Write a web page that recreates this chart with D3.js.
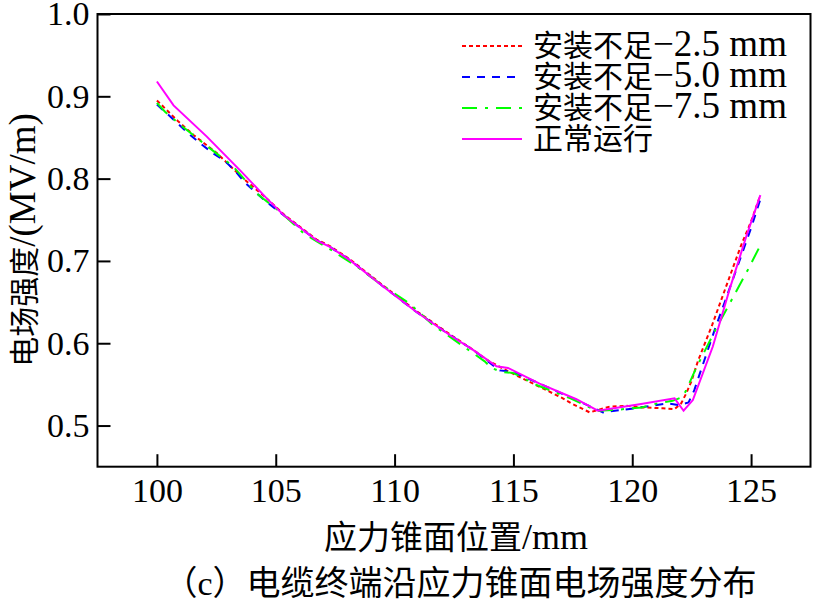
<!DOCTYPE html>
<html><head><meta charset="utf-8">
<script src="https://cdn.jsdelivr.net/npm/d3@7"></script>
<style>
html,body{margin:0;padding:0;background:#fff;}
svg{display:block;}
</style></head>
<body>
<svg id="chart" width="815" height="604"></svg>
<script>
// ---- data ----
const xTicks = [100, 105, 110, 115, 120, 125];
const yTicks = [0.5, 0.6, 0.7, 0.8, 0.9, 1.0];
const seriesNames = ["安装不足−2.5 mm", "安装不足−5.0 mm", "安装不足−7.5 mm", "正常运行"];

const redX = [100, 100.88, 101.54, 102.52, 103.64, 104.62, 105.32, 106.72, 107.28, 108.12, 109.52, 110.92, 112.32, 113.30, 113.87, 114.77, 115.68, 116.39, 117.08, 117.43, 118.21, 119.05, 119.75, 120.45, 121.29, 121.78, 122.06, 122.27, 122.48, 122.76, 123.36, 123.95, 124.58, 125.0, 125.39];
const redY = [0.895, 0.870, 0.853, 0.831, 0.800, 0.776, 0.757, 0.726, 0.718, 0.702, 0.670, 0.639, 0.611, 0.592, 0.580, 0.566, 0.553, 0.543, 0.533, 0.527, 0.516, 0.523, 0.524, 0.522, 0.521, 0.520, 0.527, 0.539, 0.553, 0.578, 0.622, 0.669, 0.719, 0.748, 0.780];

const blueX = [100, 100.46, 100.91, 101.4, 101.86, 102.35, 102.88, 103.33, 103.71, 104.59, 105.32, 106.72, 107.28, 108.12, 109.52, 110.92, 112.32, 113.30, 114.42, 115.0, 116.10, 117.65, 118.77, 120.1, 120.8, 121.49, 121.95, 122.37, 122.61, 122.97, 123.5, 123.88, 124.62, 125.0, 125.39];
const blueY = [0.890, 0.878, 0.866, 0.853, 0.842, 0.831, 0.821, 0.808, 0.795, 0.772, 0.756, 0.725, 0.717, 0.701, 0.669, 0.638, 0.610, 0.592, 0.567, 0.565, 0.551, 0.531, 0.516, 0.521, 0.524, 0.527, 0.525, 0.528, 0.543, 0.574, 0.619, 0.649, 0.709, 0.740, 0.775];

const greenX = [100, 100.35, 101.0, 102.0, 103.2, 104.2, 105.25, 106.2, 107.35, 108.47, 109.45, 110.64, 111.62, 113.3, 113.79, 114.08, 114.5, 114.98, 116.0, 117.4, 118.5, 119.3, 120.4, 121.2, 121.7, 122.13, 122.27, 122.69, 123.53, 124.3, 124.86, 125.39];
const greenY = [0.892, 0.881, 0.865, 0.842, 0.815, 0.782, 0.758, 0.733, 0.713, 0.692, 0.671, 0.648, 0.622, 0.588, 0.578, 0.570, 0.565, 0.564, 0.549, 0.533, 0.518, 0.519, 0.522, 0.528, 0.530, 0.535, 0.543, 0.570, 0.618, 0.659, 0.689, 0.719];

const magX = [100, 100.70, 102.10, 103.50, 104.62, 105.32, 106.72, 107.28, 108.12, 109.52, 110.92, 112.32, 113.30, 114.29, 114.77, 116.10, 117.65, 118.55, 120.31, 121.78, 122.16, 122.55, 123.39, 124.09, 124.79, 125.39];
const magY = [0.918, 0.889, 0.851, 0.810, 0.776, 0.756, 0.725, 0.717, 0.701, 0.669, 0.638, 0.610, 0.592, 0.572, 0.570, 0.551, 0.532, 0.518, 0.526, 0.533, 0.518, 0.531, 0.596, 0.665, 0.729, 0.780];

// ---- layout ----
const svg = d3.select("#chart");
const L = 97.5, R = 810.5, T = 14, B = 466.7;
const x = d3.scaleLinear().domain([97.5, 127.5]).range([L, R]);
const y = d3.scaleLinear().domain([0.45, 1.0]).range([B, T]);

const LATIN = '"Times New Roman","Liberation Serif",serif';
const CJK = '"Noto Sans CJK SC","Noto Sans CJK JP",sans-serif';

function mixed(sel, str, cjkSize, latSize) {
  const runs = [];
  for (const ch of str) {
    const isC = /[\u3000-\u9fff\uff00-\uffef]/.test(ch);
    if (runs.length && runs[runs.length - 1].c === isC) runs[runs.length - 1].t += ch;
    else runs.push({c: isC, t: ch});
  }
  runs.forEach(r => {
    sel.append("tspan")
      .attr("font-family", r.c ? CJK : LATIN)
      .attr("font-size", r.c ? cjkSize : latSize)
      .text(r.t);
  });
  return sel;
}

// axes
const gx = svg.append("g").attr("transform", `translate(0,${B})`)
  .call(d3.axisBottom(x).tickValues(xTicks).tickSizeInner(-12.5).tickSizeOuter(0).tickPadding(11).tickFormat(d3.format("d")));
const gy = svg.append("g").attr("transform", `translate(${L},0)`)
  .call(d3.axisLeft(y).tickValues(yTicks).tickSizeInner(-13).tickSizeOuter(0).tickPadding(8).tickFormat(d3.format(".1f")));
[gx, gy].forEach(g => {
  g.select(".domain").remove();
  g.selectAll(".tick line").attr("stroke", "#000").attr("stroke-width", 2);
  g.selectAll(".tick text").attr("fill", "#000").attr("font-family", LATIN).attr("font-size", 34);
});
svg.append("rect").attr("x", L).attr("y", T).attr("width", R - L).attr("height", B - T)
  .attr("fill", "none").attr("stroke", "#000").attr("stroke-width", 2);

// lines
const series = [
  {xs: redX, ys: redY, color: "#ff0000", dash: "4,3"},
  {xs: blueX, ys: blueY, color: "#0000ff", dash: "8,7"},
  {xs: greenX, ys: greenY, color: "#00ff00", dash: "15,8,3,8"},
  {xs: magX, ys: magY, color: "#ff00ff", dash: null}
];
const line = d3.line().x(d => x(d[0])).y(d => y(d[1]));
series.forEach(s => {
  const pts = s.xs.map((v, i) => [v, s.ys[i]]);
  svg.append("path").datum(pts).attr("d", line)
    .attr("fill", "none").attr("stroke", s.color).attr("stroke-width", 2)
    .attr("stroke-dasharray", s.dash);
});

// legend
const legY0 = 46, legDY = 31;
series.forEach((s, i) => {
  const yy = legY0 + i * legDY;
  svg.append("line").attr("x1", 462).attr("x2", 522).attr("y1", yy).attr("y2", yy)
    .attr("stroke", s.color).attr("stroke-width", 2).attr("stroke-dasharray", s.dash);
  mixed(svg.append("text").attr("x", 533).attr("y", yy + 10).attr("fill", "#000"), seriesNames[i], 30, 37);
});

// axis titles
mixed(svg.append("text").attr("x", 456).attr("y", 549).attr("text-anchor", "middle").attr("fill", "#000"), "应力锥面位置/mm", 33, 36);
mixed(svg.append("text").attr("transform", "translate(35,240) rotate(-90)").attr("text-anchor", "middle").attr("fill", "#000"), "电场强度/(MV/m)", 30, 37);
// caption
mixed(svg.append("text").attr("x", 460).attr("y", 595).attr("text-anchor", "middle").attr("fill", "#000"), "（c）电缆终端沿应力锥面电场强度分布", 34, 34);
</script>
</body></html>
